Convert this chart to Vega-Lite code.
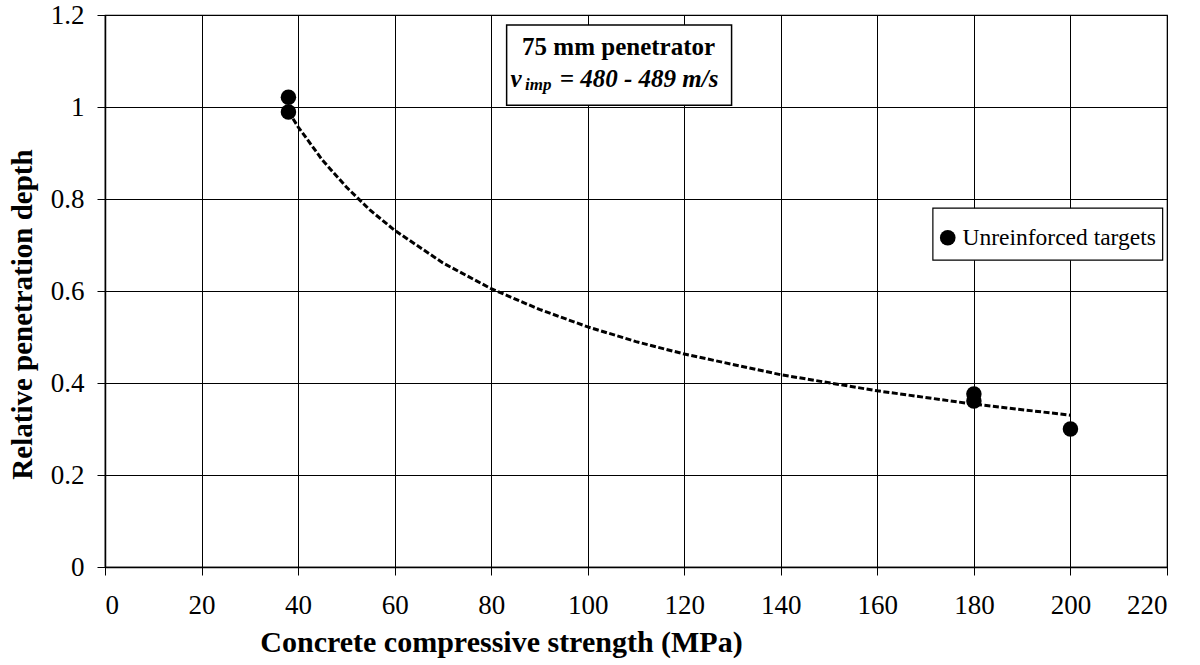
{
  "$schema": "https://vega.github.io/schema/vega-lite/v6.json",
  "width": 1062,
  "height": 552,
  "autosize": "none",
  "padding": {"left": 105, "top": 15, "right": 33, "bottom": 98},
  "background": "white",
  "config": {
    "font": "Liberation Serif, Times New Roman, serif",
    "view": {"stroke": "black", "strokeWidth": 1.2},
    "axis": {
      "gridColor": "black", "gridOpacity": 1, "gridWidth": 1,
      "domainColor": "black", "domainWidth": 1.5,
      "tickColor": "black", "tickWidth": 1, "tickSize": 8,
      "labelFont": "Liberation Serif, Times New Roman, serif", "labelFontSize": 27, "labelColor": "black",
      "titleFont": "Liberation Serif, Times New Roman, serif", "titleFontSize": 29, "titleFontWeight": "bold", "titleColor": "black"
    }
  },
  "datasets": {
    "points": [
      {"strength": 38, "depth": 1.021, "series": "Unreinforced targets"},
      {"strength": 38, "depth": 0.989, "series": "Unreinforced targets"},
      {"strength": 180, "depth": 0.376, "series": "Unreinforced targets"},
      {"strength": 180, "depth": 0.361, "series": "Unreinforced targets"},
      {"strength": 200, "depth": 0.300, "series": "Unreinforced targets"}
    ],
    "trend": [
      {"strength": 38, "depth": 0.990},
      {"strength": 40, "depth": 0.957},
      {"strength": 45, "depth": 0.885},
      {"strength": 50, "depth": 0.826},
      {"strength": 55, "depth": 0.775},
      {"strength": 60, "depth": 0.732},
      {"strength": 70, "depth": 0.661},
      {"strength": 80, "depth": 0.605},
      {"strength": 90, "depth": 0.560},
      {"strength": 100, "depth": 0.522},
      {"strength": 110, "depth": 0.490},
      {"strength": 120, "depth": 0.463},
      {"strength": 140, "depth": 0.418},
      {"strength": 160, "depth": 0.383},
      {"strength": 180, "depth": 0.354},
      {"strength": 200, "depth": 0.330}
    ],
    "one": [{}]
  },
  "layer": [
    {
      "data": {"name": "trend"},
      "mark": {"type": "line", "color": "black", "strokeWidth": 3, "strokeDash": [6, 2.5]},
      "encoding": {
        "x": {
          "field": "strength", "type": "quantitative",
          "scale": {"domain": [0, 220], "nice": false, "zero": false},
          "axis": {
            "values": [0, 20, 40, 60, 80, 100, 120, 140, 160, 180, 200, 220],
            "title": "Concrete compressive strength (MPa)",
            "labelPadding": 17, "titleX": 396, "titleY": 60, "titleFontSize": 30, "titleAnchor": "middle", "titleAlign": "center"
          }
        },
        "y": {
          "field": "depth", "type": "quantitative",
          "scale": {"domain": [0, 1.2], "nice": false},
          "axis": {
            "values": [0, 0.2, 0.4, 0.6, 0.8, 1, 1.2], "format": "~g",
            "title": "Relative penetration depth",
            "labelPadding": 13, "titleX": -83, "titleY": 299, "titleAlign": "center", "titleAngle": -90, "titleBaseline": "middle"
          }
        }
      }
    },
    {
      "data": {"name": "one"},
      "mark": {"type": "rect", "fill": "white", "stroke": "black", "strokeWidth": 1.2},
      "encoding": {
        "x": {"datum": 171.5}, "x2": {"datum": 219.1},
        "y": {"datum": 0.780}, "y2": {"datum": 0.667}
      }
    },
    {
      "data": {"name": "points"},
      "mark": {"type": "point", "shape": "circle", "filled": true, "size": 240, "opacity": 1},
      "encoding": {
        "x": {"field": "strength", "type": "quantitative"},
        "y": {"field": "depth", "type": "quantitative"},
        "color": {
          "field": "series", "type": "nominal",
          "scale": {"range": ["black"]},
          "legend": {
            "title": null, "orient": "none", "legendX": 831, "legendY": 211,
            "padding": 0,
            "labelFont": "Liberation Serif, Times New Roman, serif", "labelFontSize": 23.5, "labelColor": "black", "labelLimit": 400,
            "symbolSize": 245, "symbolType": "circle", "symbolStrokeWidth": 0, "labelOffset": 3
          }
        }
      }
    },
    {
      "data": {"name": "one"},
      "mark": {"type": "rect", "fill": "white", "stroke": "black", "strokeWidth": 1.5},
      "encoding": {
        "x": {"datum": 83.2}, "x2": {"datum": 129.8},
        "y": {"datum": 1.178}, "y2": {"datum": 1.004}
      }
    },
    {
      "data": {"name": "one"},
      "mark": {"type": "text", "text": "75 mm penetrator", "font": "Liberation Serif, Times New Roman, serif", "fontSize": 25, "fontWeight": "bold", "align": "center", "baseline": "alphabetic", "color": "black"},
      "encoding": {"x": {"datum": 106.4}, "y": {"datum": 1.113}}
    },
    {
      "data": {"name": "one"},
      "mark": {"type": "text", "text": "v", "font": "Liberation Serif, Times New Roman, serif", "fontSize": 25, "fontWeight": "bold", "fontStyle": "italic", "align": "left", "baseline": "alphabetic", "color": "black"},
      "encoding": {"x": {"datum": 84.0}, "y": {"datum": 1.043}}
    },
    {
      "data": {"name": "one"},
      "mark": {"type": "text", "text": "imp", "font": "Liberation Serif, Times New Roman, serif", "fontSize": 17, "fontWeight": "bold", "fontStyle": "italic", "align": "left", "baseline": "alphabetic", "color": "black"},
      "encoding": {"x": {"datum": 87.0}, "y": {"datum": 1.036}}
    },
    {
      "data": {"name": "one"},
      "mark": {"type": "text", "text": "= 480 - 489 m/s", "font": "Liberation Serif, Times New Roman, serif", "fontSize": 25, "fontWeight": "bold", "fontStyle": "italic", "align": "left", "baseline": "alphabetic", "color": "black"},
      "encoding": {"x": {"datum": 94.2}, "y": {"datum": 1.043}}
    }
  ]
}
